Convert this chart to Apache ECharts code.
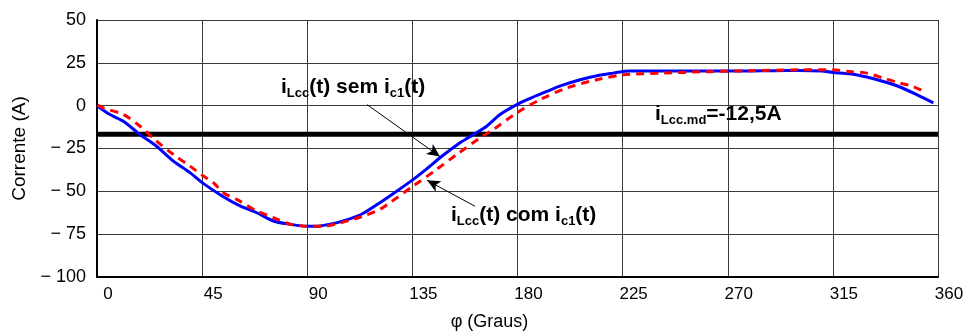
<!DOCTYPE html>
<html><head><meta charset="utf-8">
<script src="https://cdn.jsdelivr.net/npm/echarts@6/dist/echarts.min.js"></script>
<style>html,body{margin:0;padding:0;background:#fff}#c{width:973px;height:336px}</style>
</head><body><div id="c"></div>
<script>
// Angle (degrees) and current (A) for i_Lcc(t) without i_c1(t) — blue solid
const blueAngles = [0,5.6,11.3,18.4,25.5,32.7,39.8,45,54.1,61.2,68.4,75.5,82.6,89.8,95.5,99.7,104,109.7,114,121.1,128,135.4,141,146.8,151,155.4,161.1,166.8,172.5,179.7,186,192.5,199,206.8,214,221,228,240,250,260,270,280,290,300,310,315,322.3,329.5,336.6,343.7,350.9,358];
const blueValues = [0,-5.2,-9.1,-16.9,-23.7,-32.4,-39.1,-44.9,-53.2,-58.5,-62.5,-67.3,-69.2,-70.4,-70.2,-69.2,-67.8,-65.3,-62.8,-56.6,-50.2,-43,-37,-30.4,-26,-21.7,-16.9,-12,-5.2,0.6,4.6,8.3,11.8,15.1,17.5,19,20.3,20.2,20.3,20.2,20.3,20.3,20.4,20.5,20.2,19.4,18.6,16.7,14.1,10.9,6.4,1.6];
// i_Lcc(t) with i_c1(t) — red dashed
const redAngles = [-5,-2,0,3,11.3,18.4,25.5,32.7,39.8,45.5,49.8,54.1,59.8,68.4,75.5,82.6,88.3,94,98.3,104,109.7,114,121.1,125.4,135.4,145.4,154,164,169.6,179.7,189.6,201,213.9,225.3,242.4,260,280,300,315,322.3,329.5,336.6,343.7,349.3,355.2];
const redValues = [4.5,2,0.5,-1.5,-5.2,-12,-20.7,-28.5,-35.3,-41.1,-44.9,-50.8,-54.7,-61.5,-65.3,-69.2,-70.2,-70.4,-70.2,-68.5,-66.3,-64.4,-60.5,-56.6,-46.9,-37.2,-28.5,-18.8,-14,-4.2,3.5,10.3,15.1,18,19,19.8,20.4,20.9,20.9,19.9,19,16.1,13.2,11.2,7.4];
// mean line (as drawn in the picture)
const meanAngles = [0,360];
const meanValues = [-16.7,-16.7];
// arrow annotations [startAngle,startValue,endAngle,endValue]
const arrowSem = [115.6,0.6,146.8,-29.7];
const arrowCom = [161.8,-58.7,141.3,-43.6];
// tick labels
const xTicks = [0,45,90,135,180,225,270,315,360];
const yTicks = [50,25,0,-25,-50,-75,-100];

const zip = (a,b)=>a.map((v,i)=>[v,b[i]]);
const F = '"Liberation Sans", Arial, sans-serif';
const chart = echarts.init(document.getElementById('c'));
const richStyle = {
  m:{fontFamily:F,fontSize:21,fontWeight:'bold',color:'#000',lineHeight:25},
  s:{fontFamily:F,fontSize:13,fontWeight:'bold',color:'#000',lineHeight:12,verticalAlign:'bottom'}
};
chart.setOption({
  animation:false,
  backgroundColor:'#fff',
  grid:{left:97,right:35,top:20,bottom:58,containLabel:false},
  xAxis:{type:'value',min:xTicks[0],max:xTicks[xTicks.length-1],interval:45,
    name:'φ (Graus)',nameLocation:'middle',nameGap:36,
    nameTextStyle:{fontFamily:F,fontSize:18,color:'#000',padding:[0,56,0,0]},
    axisLine:{show:true,onZero:false,lineStyle:{color:'#000',width:2}},
    axisTick:{show:false},
    axisLabel:{fontFamily:F,fontSize:17,color:'#000',margin:9,padding:[0,0,0,22]},
    splitLine:{show:true,lineStyle:{color:'#3a3a3a',width:1}}},
  yAxis:{type:'value',min:yTicks[yTicks.length-1],max:yTicks[0],interval:25,
    name:'Corrente (A)',nameLocation:'middle',nameGap:66,
    nameTextStyle:{fontFamily:F,fontSize:19,color:'#000'},
    axisLine:{show:true,onZero:false,lineStyle:{color:'#000',width:2}},
    axisTick:{show:false},
    axisLabel:{fontFamily:F,fontSize:18,color:'#000',margin:11,
      formatter:v=>v<0?'\u2212 '+(-v):String(v)},
    splitLine:{show:true,lineStyle:{color:'#3a3a3a',width:1}}},
  series:[
    {type:'line',data:zip(meanAngles,meanValues),showSymbol:false,
      lineStyle:{color:'#000',width:5},z:3},
    {type:'line',data:zip(blueAngles,blueValues),showSymbol:false,smooth:0.3,
      lineStyle:{color:'#0000ff',width:3},z:4},
    {type:'line',data:zip(redAngles,redValues),showSymbol:false,smooth:0.3,clip:false,
      lineStyle:{color:'#ff0000',width:3,type:[8,6]},z:5,
      markLine:{silent:true,symbol:['none','arrow'],symbolSize:[9,13],
        lineStyle:{color:'#000',width:1,type:'solid'},label:{show:false},
        data:[
          [{coord:[arrowSem[0],arrowSem[1]]},{coord:[arrowSem[2],arrowSem[3]]}],
          [{coord:[arrowCom[0],arrowCom[1]]},{coord:[arrowCom[2],arrowCom[3]]}]
        ]}}
  ],
  graphic:[
    {type:'text',left:281,top:77,z:10,style:{text:'{m|i}{s|Lcc}{m|(t) sem i}{s|c1}{m|(t)}',rich:richStyle}},
    {type:'text',left:451,top:205,z:10,style:{text:'{m|i}{s|Lcc}{m|(t) com i}{s|c1}{m|(t)}',rich:richStyle}},
    {type:'text',left:655,top:104,z:10,style:{text:'{m|i}{s|Lcc.md}{m|=-12,5A}',rich:richStyle}}
  ]
});
</script></body></html>
